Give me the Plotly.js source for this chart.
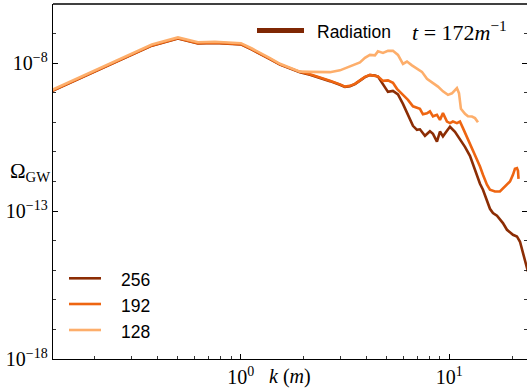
<!DOCTYPE html>
<html>
<head>
<meta charset="utf-8">
<script src="https://cdn.plot.ly/plotly-3.0.1.min.js"></script>
<style>html,body{margin:0;padding:0;background:#fff;}#chart{width:527px;height:392px;}</style>
</head>
<body>
<div id="chart"></div>
<script>
// Wavenumbers k (in units of m) and log10(Omega_GW)
const k128 = [0.1254, 0.2497, 0.3758, 0.5007, 0.6243, 0.7530, 0.8788, 1.003, 1.133, 1.251, 1.382, 1.543, 1.722, 1.923,
  2.148, 2.399, 2.679, 2.991, 3.340, 3.729, 3.941, 4.164, 4.401, 4.549, 4.807, 5.079, 5.368, 5.672, 5.994, 6.264,
  6.619, 6.995, 7.391, 7.810, 8.346, 8.818, 9.319, 9.847, 10.29, 10.64, 10.87, 11.12, 11.36, 11.88, 12.28, 12.83, 13.27, 13.71];
const logOmega128 = [-8.90, -7.935, -7.37, -7.13, -7.295, -7.275, -7.295, -7.325, -7.505, -7.66, -7.83, -8.02, -8.16, -8.285,
  -8.294, -8.304, -8.304, -8.243, -8.115, -7.973, -7.821, -7.720, -7.736, -7.601, -7.652, -7.584, -7.584, -7.720, -8.024, -7.946,
  -8.074, -8.193, -8.294, -8.530, -8.666, -8.791, -8.953, -9.071, -9.020, -8.919, -8.845, -9.014, -9.544, -9.713, -9.797, -9.804, -9.858, -10.000];

const k192 = [0.1254, 0.2497, 0.3758, 0.5007, 0.6243, 0.7530, 0.8788, 1.003, 1.133, 1.251, 1.382, 1.543, 1.722, 1.923,
  2.148, 2.399, 2.679, 2.991, 3.160, 3.340, 3.528, 3.729, 3.941, 4.164, 4.401, 4.549, 4.807, 5.079, 5.368, 5.610,
  5.994, 6.334, 6.693, 6.995, 7.229, 7.472, 7.810, 8.072, 8.346, 8.721, 9.016, 9.319, 9.739, 10.07, 10.40, 10.87,
  11.24, 11.62, 12.14, 12.55, 12.98, 13.56, 14.02, 14.49, 15.14, 15.65, 16.54, 17.47, 18.47, 19.52, 20.17, 20.62,
  21.08, 21.32, 21.45];
const logOmega192 = [-8.926, -7.963, -7.399, -7.159, -7.324, -7.304, -7.324, -7.355, -7.534, -7.686, -7.855, -8.041, -8.176, -8.294,
  -8.378, -8.480, -8.598, -8.716, -8.791, -8.767, -8.699, -8.581, -8.463, -8.395, -8.412, -8.446, -8.598, -8.581, -8.666, -8.868,
  -9.071, -9.240, -9.459, -9.493, -9.544, -9.730, -9.696, -9.628, -9.797, -9.747, -9.916, -9.689, -9.973, -10.027, -9.973, -10.027,
  -9.973, -10.196, -10.490, -10.703, -10.929, -11.267, -11.493, -11.774, -12.111, -12.280, -12.338, -12.338, -12.169, -12.000, -11.774, -11.571,
  -11.547, -11.639, -11.909];

const k256 = [0.1254, 0.2497, 0.3758, 0.5007, 0.6243, 0.7530, 0.8788, 1.003, 1.133, 1.251, 1.382, 1.543, 1.722, 1.923,
  2.148, 2.399, 2.679, 2.991, 3.160, 3.340, 3.528, 3.729, 3.941, 4.164, 4.401, 4.549, 4.807, 5.079, 5.368, 5.672,
  5.994, 6.334, 6.693, 6.995, 7.229, 7.641, 8.072, 8.346, 8.721, 9.016, 9.319, 9.739, 10.07, 10.64, 11.24, 11.88,
  12.55, 12.98, 13.56, 14.02, 14.49, 15.14, 15.65, 16.18, 16.91, 18.06, 18.88, 20.17, 21.08, 21.80, 22.28, 22.78,
  23.28, 23.81];
const logOmega256 = [-8.936, -7.973, -7.409, -7.169, -7.334, -7.314, -7.334, -7.365, -7.544, -7.696, -7.865, -8.051, -8.186, -8.304,
  -8.388, -8.490, -8.608, -8.730, -8.805, -8.780, -8.710, -8.590, -8.470, -8.405, -8.420, -8.456, -8.733, -8.970, -8.936, -9.054,
  -9.375, -9.747, -10.118, -10.253, -10.236, -10.456, -10.304, -10.389, -10.649, -10.311, -10.473, -10.287, -10.152, -10.321, -10.574, -10.828,
  -11.132, -11.436, -11.774, -12.078, -12.280, -12.618, -12.922, -13.068, -13.159, -13.405, -13.632, -13.801, -13.858, -14.037, -14.307, -14.578,
  -14.848, -15.051];

const seriesNames = ['256', '192', '128'];
const seriesColors = ['#8c2d04', '#ee6511', '#fdae6b'];
const xTickVals = [1, 10];
const xTickText = ['10<sup>0</sup>', '10<sup>1</sup>'];
const xMinorVals = [0.2, 0.3, 0.4, 0.5, 0.6, 0.7, 0.8, 0.9, 2, 3, 4, 5, 6, 7, 8, 9, 20];
const yTickVals = [1e-18, 1e-13, 1e-8];
const yTickText = ['10<sup>−18</sup>', '10<sup>−13</sup>', '10<sup>−8</sup>'];
const yMinorVals = [1e-17, 1e-16, 1e-15, 1e-14, 1e-12, 1e-11, 1e-10, 1e-9, 1e-7, 1e-6];
const titleLabel = 'Radiation';
const timeLabel = '<i>t</i> = 172<i>m</i><sup>−1</sup>';
const titleColor = '#7f2704';

const toOmega = a => a.map(v => Math.pow(10, v));
const ks = [k256, k192, k128];
const oms = [logOmega256, logOmega192, logOmega128];

const serif = 'Liberation Serif, DejaVu Serif, serif';
const sans = 'Liberation Sans, Arial, sans-serif';

const traces = seriesNames.map((n, i) => ({
  type: 'scatter', mode: 'lines', name: n,
  x: ks[i], y: toOmega(oms[i]),
  line: {color: seriesColors[i], width: 2.6},
  showlegend: false
}));

// Legend keys drawn in paper coordinates (plot area: 53..527 px wide, 4..359 px tall)
const PX = px => (px - 53) / 474;
const PY = py => (359 - py) / 355;
const legendRowsY = [278.3, 304, 330];
const shapes = [{type: 'line', xref: 'paper', yref: 'paper', x0: 0, x1: 1, y0: 1, y1: 1, line: {color: '#000', width: 1.3}}];
const annotations = [
  {xref: 'paper', yref: 'paper', x: -0.002, y: 0.527, xanchor: 'right', yanchor: 'middle', showarrow: false,
   text: 'Ω<sub>GW</sub>', font: {family: serif, size: 21, color: '#000'}},
  {xref: 'paper', yref: 'paper', x: 0.5, y: -0.048, xanchor: 'center', yanchor: 'middle', showarrow: false,
   text: '<i>k</i> (<i>m</i>)', font: {family: serif, size: 20, color: '#000'}}
];
seriesNames.forEach((n, i) => {
  shapes.push({type: 'line', xref: 'paper', yref: 'paper', x0: PX(69), x1: PX(101), y0: PY(legendRowsY[i]), y1: PY(legendRowsY[i]),
    line: {color: seriesColors[i], width: 2.6}});
  annotations.push({xref: 'paper', yref: 'paper', x: PX(119), y: PY(legendRowsY[i] + 1.5), xanchor: 'left', yanchor: 'middle',
    showarrow: false, text: n, font: {family: sans, size: 17.5, color: '#000'}});
});
shapes.push({type: 'line', xref: 'paper', yref: 'paper', x0: PX(257), x1: PX(304), y0: PY(30.5), y1: PY(30.5),
  line: {color: titleColor, width: 5}});
annotations.push({xref: 'paper', yref: 'paper', x: PX(315), y: PY(31.5), xanchor: 'left', yanchor: 'middle',
  showarrow: false, text: titleLabel, font: {family: sans, size: 17.5, color: '#000'}});
annotations.push({xref: 'paper', yref: 'paper', x: PX(410), y: PY(31), xanchor: 'left', yanchor: 'middle',
  showarrow: false, text: timeLabel, font: {family: serif, size: 22, color: '#000'}});

const layout = {
  width: 527, height: 392,
  margin: {l: 53, r: 0, t: 4, b: 33},
  paper_bgcolor: '#fff', plot_bgcolor: '#fff',
  showlegend: false,
  xaxis: {
    type: 'log', range: [-0.899, 1.372],
    showline: true, linecolor: '#000', linewidth: 1.3,
    ticks: 'inside', ticklen: 5, tickwidth: 1, tickcolor: '#000',
    tickvals: xTickVals, ticktext: xTickText,
    tickfont: {family: serif, size: 20, color: '#000'},
    minor: {tickvals: xMinorVals, ticks: 'inside', ticklen: 3, tickcolor: '#000', tickwidth: 0.8},
    showgrid: false, zeroline: false
  },
  yaxis: {
    type: 'log', range: [-18, -6],
    showline: true, linecolor: '#000', linewidth: 1.3, mirror: 'ticks',
    ticks: 'inside', ticklen: 5, tickwidth: 1, tickcolor: '#000',
    tickvals: yTickVals, ticktext: yTickText,
    tickfont: {family: serif, size: 20, color: '#000'},
    minor: {tickvals: yMinorVals, ticks: 'inside', ticklen: 3, tickcolor: '#000', tickwidth: 0.8},
    showgrid: false, zeroline: false
  },
  shapes: shapes,
  annotations: annotations
};

Plotly.newPlot('chart', traces, layout, {displayModeBar: false, staticPlot: true});
</script>
</body>
</html>
